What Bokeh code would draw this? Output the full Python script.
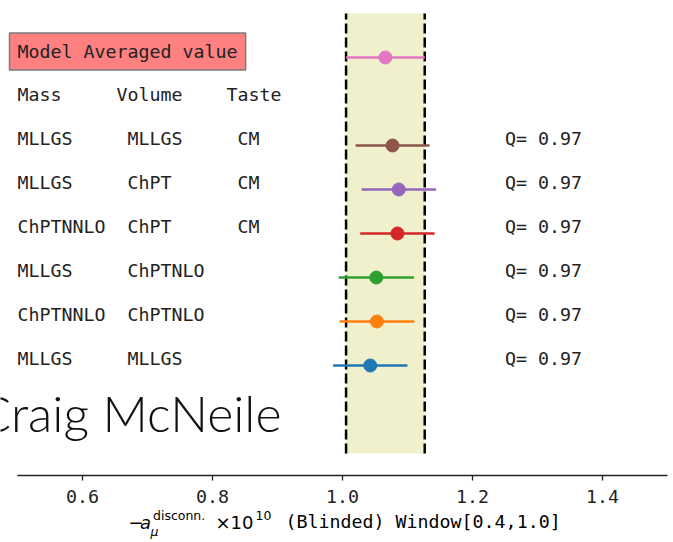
from bokeh.plotting import figure
from bokeh.models import Range1d, FixedTicker, Label, ColumnDataSource, PrintfTickFormatter, LinearAxis
from bokeh.embed import file_html
from bokeh.resources import INLINE
from bokeh.core.properties import value

# Fit variants, listed from the bottom row upwards
mass = ["MLLGS", "ChPTNNLO", "MLLGS", "ChPTNNLO", "MLLGS", "MLLGS"]
volume = ["MLLGS", "ChPTNLO", "ChPTNLO", "ChPT", "ChPT", "MLLGS"]
taste = ["", "", "", "CM", "CM", "CM"]
central = [1.0427, 1.053, 1.052, 1.0845, 1.0866, 1.077]
error = [0.0572, 0.0575, 0.0578, 0.0572, 0.0572, 0.0568]
q_value = [0.97, 0.97, 0.97, 0.97, 0.97, 0.97]
colors = ["#1f77b4", "#ff7f0e", "#2ca02c", "#d62728", "#9467bd", "#8c564b"]

# Model averaged result
avg_central = 1.066
avg_error = 0.0605
avg_color = "#e377c2"

ticks = [0.6, 0.8, 1.0, 1.2, 1.4]
header = ["Mass", "Volume", "Taste"]

# ---- layout -------------------------------------------------------------
W, H = 673, 542
AX_LEFT, AX_RIGHT, AX_BOTTOM = 17, 667, 475      # pixel extent of the axes box
X_LO, X_HI = 0.5, 1.5                           # axis limits
Y_LO = -2.5                                     # value at the axis line
PX_PER_X = (AX_RIGHT - AX_LEFT) / (X_HI - X_LO)
PX_PER_Y = 44.0
MONO = "DejaVu Sans Mono"
SANS = "DejaVu Sans"
FS = "18.3px"
CHAR = 11.0  # advance of one monospace character in pixels
TXT_SHIFT = -7  # lift text so that the row value sits on its baseline


def sx(px):
    """canvas pixel column -> data x"""
    return X_LO + (px - AX_LEFT) / PX_PER_X


def sy(py):
    """canvas pixel row -> data y"""
    return Y_LO + (AX_BOTTOM - py) / PX_PER_Y


def cols(offsets):
    return [X_LO + n * CHAR / PX_PER_X for n in offsets]


p = figure(width=W, height=H, output_backend="svg", toolbar_location=None,
           x_range=Range1d(sx(0), sx(W)), y_range=Range1d(sy(H), sy(0)),
           x_axis_location=None, y_axis_location=None,
           min_border=0, min_border_left=0, min_border_right=0,
           min_border_top=0, min_border_bottom=0)
p.outline_line_color = None
p.grid.visible = False
p.background_fill_color = "white"

rows = list(range(len(central)))
header_row = len(central)
avg_row = header_row + 1
band_bottom, band_top = -2, avg_row + 1

# averaged band with dashed edges
lo_avg, hi_avg = avg_central - avg_error, avg_central + avg_error
p.quad(left=[lo_avg], right=[hi_avg], bottom=[band_bottom], top=[band_top],
       fill_color="#f0f0cc", line_color=None)
p.segment(x0=[lo_avg, hi_avg], y0=[band_bottom] * 2, x1=[lo_avg, hi_avg], y1=[band_top] * 2,
          line_color="black", line_width=2.5, line_dash="10 4")

# individual fits
src = ColumnDataSource(dict(
    y=rows, x=central,
    lo=[c - e for c, e in zip(central, error)],
    hi=[c + e for c, e in zip(central, error)],
    color=colors, mass=mass, volume=volume, taste=taste,
    q=[f"Q= {q:.2f}" for q in q_value],
))
p.segment(x0="lo", y0="y", x1="hi", y1="y", line_color="color", line_width=2.5, source=src)
p.scatter(x="x", y="y", size=13, fill_color="color", line_color="color", source=src)

# averaged point
p.segment(x0=[lo_avg], y0=[avg_row], x1=[hi_avg], y1=[avg_row], line_color=avg_color, line_width=2.5)
p.scatter(x=[avg_central], y=[avg_row], size=13, fill_color=avg_color, line_color=avg_color)

# table of fit choices
cx = cols([0, 10, 20])
text_kw = dict(text_font=value(MONO), text_font_size=value(FS), text_color="#222222",
               text_baseline="alphabetic", text_align="left", y_offset=TXT_SHIFT)
for key, x in zip(["mass", "volume", "taste"], cx):
    p.text(x=x, y="y", text=key, source=src, **text_kw)
p.text(x=1.25, y="y", text="q", source=src, **text_kw)
p.text(x=cols([0, 9, 19]), y=[header_row] * 3, text=header, **text_kw)

p.add_layout(Label(x=sx(9), y=avg_row, y_offset=-TXT_SHIFT - 1, text="Model Averaged value",
                   text_font=MONO, text_font_size=FS, text_color="#222222",
                   text_baseline="alphabetic",
                   background_fill_color="#ff8080", border_line_color="#7a7a7a",
                   border_line_width=1.5, padding=8))

# x axis pinned at the bottom of the data area
ax = LinearAxis(fixed_location=Y_LO, bounds=(X_LO, X_HI))
ax.ticker = FixedTicker(ticks=ticks)
ax.formatter = PrintfTickFormatter(format="%.1f")
ax.major_label_text_font = MONO
ax.major_label_text_font_size = FS
ax.major_label_text_color = "#222222"
ax.major_label_standoff = 9
ax.axis_line_width = 1.5
ax.axis_line_color = "#222222"
ax.major_tick_line_width = 1.3
ax.major_tick_line_color = "#222222"
ax.major_tick_out = 5
ax.major_tick_in = 0
ax.minor_tick_line_color = None
p.add_layout(ax, "below")


# axis title, typeset piece by piece (py is the baseline row)
def add_text(px, py, text, font=SANS, size=18.0, style="normal"):
    p.add_layout(Label(x=sx(px), y=sy(py - 0.36 * size), text=text, text_font=font,
                       text_font_size=f"{size}px", text_font_style=style,
                       text_color="black", text_baseline="alphabetic"))


add_text(128, 528, "\u2212")
add_text(139.5, 528, "a", style="italic")
add_text(152.5, 519, "disconn.", size=12.5)
add_text(150, 535, "\u03bc", size=12.5, style="italic")
add_text(215, 528, "\u00d710")
add_text(255, 519, "10", size=12.5)
add_text(285, 528, "(Blinded) Window[0.4,1.0]", font=MONO, size=18.3)

# speaker name overlay
p.add_layout(Label(x=sx(281), y=sy(430 - 0.36 * 50), text="Craig McNeile",
                   text_font="'Lato Light', Lato", text_font_size="50px",
                   text_color="#111111", text_align="right", text_baseline="alphabetic"))

open("out.html", "w").write(file_html(p, INLINE))
